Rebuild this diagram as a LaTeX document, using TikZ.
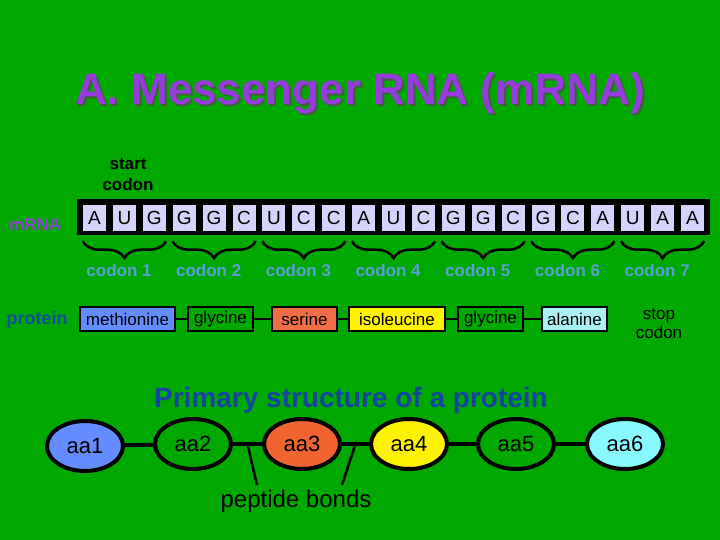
\documentclass[tikz,border=0pt]{standalone}
\usepackage{fontspec}
\setmainfont{Liberation Sans}
\usetikzlibrary{shapes.geometric,decorations.pathreplacing,calc}
\definecolor{bg}{RGB}{0,168,0}
\definecolor{titlepurple}{RGB}{150,60,220}
\definecolor{titleshadow}{RGB}{70,90,70}
\definecolor{labelpurple}{RGB}{145,65,215}
\definecolor{lav}{RGB}{212,212,250}
\definecolor{codonblue}{RGB}{90,160,210}
\definecolor{protblue}{RGB}{20,80,150}
\definecolor{primblue}{RGB}{20,70,160}
\definecolor{metfill}{RGB}{100,140,255}
\definecolor{serfill}{RGB}{240,110,70}
\definecolor{alafill}{RGB}{170,242,242}
\definecolor{aa3fill}{RGB}{240,100,50}
\definecolor{aa6fill}{RGB}{135,250,255}
\tikzset{
  letterbox/.style={fill=lav, minimum width=23pt, minimum height=26pt, inner sep=0pt, font=\fontsize{19}{19}\selectfont},
  codonlbl/.style={text=codonblue, font=\bfseries\fontsize{17}{17}\selectfont, inner sep=0pt},
  codonbrace/.style={decorate, decoration={brace, mirror, amplitude=17pt}, line width=2.5pt},
  protbox/.style={draw=black, line width=1.5pt, minimum height=24pt, inner sep=0pt, font=\fontsize{17}{17}\selectfont},
  protlink/.style={line width=1.5pt},
  aanode/.style={ellipse, draw=black, line width=4pt, minimum width=76pt, minimum height=50pt, inner sep=0pt, font=\fontsize{22}{22}\selectfont},
  aalink/.style={line width=4pt},
  bondline/.style={line width=2.5pt}
}
\begin{document}
\begin{tikzpicture}[x=1pt,y=-1pt]
\fill[bg] (0,0) rectangle (720,540);
\useasboundingbox (0,0) rectangle (720,540);

% title
\node[text=titleshadow, font=\bfseries\fontsize{44}{50}\selectfont, inner sep=0pt] (titlesh) at (362,95) {A. Messenger RNA (mRNA)};
\node[text=titlepurple, font=\bfseries\fontsize{44}{50}\selectfont, inner sep=0pt] (title) at (360,93) {A. Messenger RNA (mRNA)};

% start codon
\node[align=center, font=\bfseries\fontsize{17}{21}\selectfont, inner sep=0pt] (start) at (128,175) {start\\codon};

% mRNA label
\node[text=labelpurple, font=\bfseries\fontsize{17}{17}\selectfont, inner sep=0pt] (mrnalbl) at (35,225) {mRNA};

% mRNA strand
\node[fill=black, minimum width=633pt, minimum height=36pt, inner sep=0pt] (bar) at (393.5,217) {};
\foreach \L [count=\i] in {A,U,G,G,G,C,U,C,C,A,U,C,G,G,C,G,C,A,U,A,A} {
  \pgfmathsetmacro{\cx}{83+29.9*(\i-1)+11.5}
  \node[letterbox] (b\i) at (\cx,218) {\L};
}

% braces and codon labels
\foreach \k in {0,...,6} {
  \pgfmathtruncatemacro{\first}{3*\k+1}
  \pgfmathtruncatemacro{\last}{3*\k+3}
  \pgfmathtruncatemacro{\n}{\k+1}
  \draw[codonbrace] ([yshift=-10pt]b\first.south west) -- ([yshift=-10pt]b\last.south east);
  \node[codonlbl] (c\n) at (119+89.7*\k,270) {codon \n};
}

% protein row
\node[text=protblue, font=\bfseries\fontsize{18}{18}\selectfont, inner sep=0pt] (protlbl) at (37,320) {protein};
\node[protbox, fill=metfill, minimum width=95pt] (p1) at (127.5,319) {methionine};
\node[protbox, fill=bg, minimum width=65pt] (p2) at (220.5,319) {glycine};
\node[protbox, fill=serfill, minimum width=65pt] (p3) at (304.5,319) {serine};
\node[protbox, fill=yellow, minimum width=96pt] (p4) at (397,319) {isoleucine};
\node[protbox, fill=bg, minimum width=65pt] (p5) at (490.5,319) {glycine};
\node[protbox, fill=alafill, minimum width=65pt] (p6) at (574.5,319) {alanine};
\draw[protlink] (p1) -- (p2);
\draw[protlink] (p2) -- (p3);
\draw[protlink] (p3) -- (p4);
\draw[protlink] (p4) -- (p5);
\draw[protlink] (p5) -- (p6);
\node[align=center, font=\fontsize{17}{19}\selectfont, inner sep=0pt] (stop) at (659,324) {stop\\codon};

% primary structure
\node[text=primblue, font=\bfseries\fontsize{28}{28}\selectfont, inner sep=0pt] (prim) at (351,400) {Primary structure of a protein};
\node[aanode, fill=metfill] (aa1) at (85,446) {aa1};
\node[aanode, fill=bg] (aa2) at (193,444) {aa2};
\node[aanode, fill=aa3fill] (aa3) at (302,444) {aa3};
\node[aanode, fill=yellow] (aa4) at (409,444) {aa4};
\node[aanode, fill=bg] (aa5) at (516,444) {aa5};
\node[aanode, fill=aa6fill] (aa6) at (625,444) {aa6};
\draw[aalink] (aa1) -- (aa2);
\draw[aalink] (aa2) -- (aa3);
\draw[aalink] (aa3) -- (aa4);
\draw[aalink] (aa4) -- (aa5);
\draw[aalink] (aa5) -- (aa6);

% peptide bonds
\coordinate (bond1) at ($(aa2.east)!0.5!(aa3.west)$);
\coordinate (bond2) at ($(aa3.east)!0.5!(aa4.west)$);
\coordinate (pb1) at (257,485);
\coordinate (pb2) at (342,485);
\draw[bondline] (bond1) -- (pb1);
\draw[bondline] (bond2) -- (pb2);
\node[font=\fontsize{24}{24}\selectfont, inner sep=0pt] (pblbl) at (296,501) {peptide bonds};
\end{tikzpicture}
\end{document}
